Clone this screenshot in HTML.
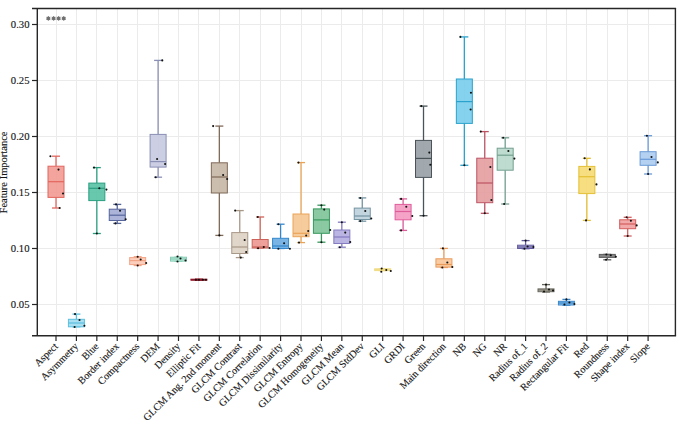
<!DOCTYPE html>
<html><head><meta charset="utf-8"><style>
html,body{margin:0;padding:0;background:#fff;}
svg{display:block;}
.t{font-family:"Liberation Serif",serif;font-size:10.2px;fill:#141414;stroke:#1a1a1a;stroke-width:0.12px}
.yt{font-size:10.7px}
.star{font-family:"Liberation Sans",sans-serif;font-size:13px;fill:#6a6a6a;stroke:#6a6a6a;stroke-width:0.7px}
</style></head><body>
<svg width="693" height="432" viewBox="0 0 693 432">
<rect width="693" height="432" fill="#fff"/>
<line x1="56.50" y1="8.5" x2="56.50" y2="335.8" stroke="#ebebeb" stroke-width="1"/>
<line x1="76.50" y1="8.5" x2="76.50" y2="335.8" stroke="#ebebeb" stroke-width="1"/>
<line x1="96.50" y1="8.5" x2="96.50" y2="335.8" stroke="#ebebeb" stroke-width="1"/>
<line x1="117.50" y1="8.5" x2="117.50" y2="335.8" stroke="#ebebeb" stroke-width="1"/>
<line x1="137.50" y1="8.5" x2="137.50" y2="335.8" stroke="#ebebeb" stroke-width="1"/>
<line x1="158.50" y1="8.5" x2="158.50" y2="335.8" stroke="#ebebeb" stroke-width="1"/>
<line x1="178.50" y1="8.5" x2="178.50" y2="335.8" stroke="#ebebeb" stroke-width="1"/>
<line x1="198.50" y1="8.5" x2="198.50" y2="335.8" stroke="#ebebeb" stroke-width="1"/>
<line x1="219.50" y1="8.5" x2="219.50" y2="335.8" stroke="#ebebeb" stroke-width="1"/>
<line x1="239.50" y1="8.5" x2="239.50" y2="335.8" stroke="#ebebeb" stroke-width="1"/>
<line x1="260.50" y1="8.5" x2="260.50" y2="335.8" stroke="#ebebeb" stroke-width="1"/>
<line x1="280.50" y1="8.5" x2="280.50" y2="335.8" stroke="#ebebeb" stroke-width="1"/>
<line x1="301.50" y1="8.5" x2="301.50" y2="335.8" stroke="#ebebeb" stroke-width="1"/>
<line x1="321.50" y1="8.5" x2="321.50" y2="335.8" stroke="#ebebeb" stroke-width="1"/>
<line x1="341.50" y1="8.5" x2="341.50" y2="335.8" stroke="#ebebeb" stroke-width="1"/>
<line x1="362.50" y1="8.5" x2="362.50" y2="335.8" stroke="#ebebeb" stroke-width="1"/>
<line x1="382.50" y1="8.5" x2="382.50" y2="335.8" stroke="#ebebeb" stroke-width="1"/>
<line x1="403.50" y1="8.5" x2="403.50" y2="335.8" stroke="#ebebeb" stroke-width="1"/>
<line x1="423.50" y1="8.5" x2="423.50" y2="335.8" stroke="#ebebeb" stroke-width="1"/>
<line x1="443.50" y1="8.5" x2="443.50" y2="335.8" stroke="#ebebeb" stroke-width="1"/>
<line x1="464.50" y1="8.5" x2="464.50" y2="335.8" stroke="#ebebeb" stroke-width="1"/>
<line x1="484.50" y1="8.5" x2="484.50" y2="335.8" stroke="#ebebeb" stroke-width="1"/>
<line x1="505.50" y1="8.5" x2="505.50" y2="335.8" stroke="#ebebeb" stroke-width="1"/>
<line x1="525.50" y1="8.5" x2="525.50" y2="335.8" stroke="#ebebeb" stroke-width="1"/>
<line x1="546.50" y1="8.5" x2="546.50" y2="335.8" stroke="#ebebeb" stroke-width="1"/>
<line x1="566.50" y1="8.5" x2="566.50" y2="335.8" stroke="#ebebeb" stroke-width="1"/>
<line x1="586.50" y1="8.5" x2="586.50" y2="335.8" stroke="#ebebeb" stroke-width="1"/>
<line x1="607.50" y1="8.5" x2="607.50" y2="335.8" stroke="#ebebeb" stroke-width="1"/>
<line x1="627.50" y1="8.5" x2="627.50" y2="335.8" stroke="#ebebeb" stroke-width="1"/>
<line x1="648.50" y1="8.5" x2="648.50" y2="335.8" stroke="#ebebeb" stroke-width="1"/>
<line x1="37.3" y1="24.5" x2="675.4" y2="24.5" stroke="#ebebeb" stroke-width="1"/>
<line x1="37.3" y1="80.5" x2="675.4" y2="80.5" stroke="#ebebeb" stroke-width="1"/>
<line x1="37.3" y1="136.5" x2="675.4" y2="136.5" stroke="#ebebeb" stroke-width="1"/>
<line x1="37.3" y1="192.5" x2="675.4" y2="192.5" stroke="#ebebeb" stroke-width="1"/>
<line x1="37.3" y1="248.5" x2="675.4" y2="248.5" stroke="#ebebeb" stroke-width="1"/>
<line x1="37.3" y1="304.5" x2="675.4" y2="304.5" stroke="#ebebeb" stroke-width="1"/>
<line x1="56.00" y1="156.2" x2="56.00" y2="166.2" stroke="#e2665e" stroke-width="1.3"/>
<line x1="56.00" y1="197.4" x2="56.00" y2="208.0" stroke="#e2665e" stroke-width="1.3"/>
<line x1="52.00" y1="156.2" x2="60.00" y2="156.2" stroke="#e2665e" stroke-width="1.3"/>
<line x1="52.00" y1="208.0" x2="60.00" y2="208.0" stroke="#e2665e" stroke-width="1.3"/>
<rect x="48.00" y="166.2" width="16.0" height="31.20" fill="#f29a92" fill-opacity="0.9" stroke="#e2665e" stroke-width="1.0"/>
<line x1="48.00" y1="181.7" x2="64.00" y2="181.7" stroke="#e2665e" stroke-width="1.2"/>
<circle cx="50.40" cy="156.2" r="1.05" fill="#111"/>
<circle cx="58.50" cy="169.6" r="1.05" fill="#111"/>
<circle cx="63.00" cy="193.5" r="1.05" fill="#111"/>
<circle cx="59.70" cy="208" r="1.05" fill="#111"/>
<line x1="76.42" y1="314.1" x2="76.42" y2="319.3" stroke="#5cc0e0" stroke-width="1.3"/>
<line x1="76.42" y1="326.8" x2="76.42" y2="326.8" stroke="#5cc0e0" stroke-width="1.3"/>
<line x1="72.42" y1="314.1" x2="80.42" y2="314.1" stroke="#5cc0e0" stroke-width="1.3"/>
<line x1="72.42" y1="326.8" x2="80.42" y2="326.8" stroke="#5cc0e0" stroke-width="1.3"/>
<rect x="68.42" y="319.3" width="16.0" height="7.50" fill="#a0dcf0" fill-opacity="0.9" stroke="#5cc0e0" stroke-width="1.0"/>
<line x1="68.42" y1="323.0" x2="84.42" y2="323.0" stroke="#5cc0e0" stroke-width="1.2"/>
<circle cx="75.02" cy="314.1" r="1.05" fill="#111"/>
<circle cx="79.52" cy="320" r="1.05" fill="#111"/>
<circle cx="74.62" cy="327" r="1.05" fill="#111"/>
<circle cx="84.42" cy="325.8" r="1.05" fill="#111"/>
<line x1="96.83" y1="167.6" x2="96.83" y2="183.1" stroke="#2a9e80" stroke-width="1.3"/>
<line x1="96.83" y1="200.6" x2="96.83" y2="233.5" stroke="#2a9e80" stroke-width="1.3"/>
<line x1="92.83" y1="167.6" x2="100.83" y2="167.6" stroke="#2a9e80" stroke-width="1.3"/>
<line x1="92.83" y1="233.5" x2="100.83" y2="233.5" stroke="#2a9e80" stroke-width="1.3"/>
<rect x="88.83" y="183.1" width="16.0" height="17.50" fill="#58c2a4" fill-opacity="0.9" stroke="#2a9e80" stroke-width="1.0"/>
<line x1="88.83" y1="188.3" x2="104.83" y2="188.3" stroke="#2a9e80" stroke-width="1.2"/>
<circle cx="94.03" cy="167.6" r="1.05" fill="#111"/>
<circle cx="99.33" cy="188.3" r="1.05" fill="#111"/>
<circle cx="106.43" cy="189.6" r="1.05" fill="#111"/>
<circle cx="96.83" cy="233.5" r="1.05" fill="#111"/>
<line x1="117.25" y1="204.4" x2="117.25" y2="209.2" stroke="#56649c" stroke-width="1.3"/>
<line x1="117.25" y1="220.5" x2="117.25" y2="223.4" stroke="#56649c" stroke-width="1.3"/>
<line x1="113.25" y1="204.4" x2="121.25" y2="204.4" stroke="#56649c" stroke-width="1.3"/>
<line x1="113.25" y1="223.4" x2="121.25" y2="223.4" stroke="#56649c" stroke-width="1.3"/>
<rect x="109.25" y="209.2" width="16.0" height="11.30" fill="#a3acd6" fill-opacity="0.9" stroke="#56649c" stroke-width="1.0"/>
<line x1="109.25" y1="215.2" x2="125.25" y2="215.2" stroke="#56649c" stroke-width="1.2"/>
<circle cx="116.05" cy="204.4" r="1.05" fill="#111"/>
<circle cx="120.05" cy="210.7" r="1.05" fill="#111"/>
<circle cx="125.65" cy="219.3" r="1.05" fill="#111"/>
<circle cx="115.45" cy="223.4" r="1.05" fill="#111"/>
<line x1="137.67" y1="256.7" x2="137.67" y2="257.6" stroke="#f2a486" stroke-width="1.3"/>
<line x1="137.67" y1="264.6" x2="137.67" y2="265.5" stroke="#f2a486" stroke-width="1.3"/>
<line x1="133.67" y1="256.7" x2="141.67" y2="256.7" stroke="#f2a486" stroke-width="1.3"/>
<line x1="133.67" y1="265.5" x2="141.67" y2="265.5" stroke="#f2a486" stroke-width="1.3"/>
<rect x="129.67" y="257.6" width="16.0" height="7.00" fill="#fccab6" fill-opacity="0.9" stroke="#f2a486" stroke-width="1.0"/>
<line x1="129.67" y1="260.6" x2="145.67" y2="260.6" stroke="#f2a486" stroke-width="1.2"/>
<circle cx="137.67" cy="256.7" r="1.05" fill="#111"/>
<circle cx="140.67" cy="259.5" r="1.05" fill="#111"/>
<circle cx="146.17" cy="263" r="1.05" fill="#111"/>
<circle cx="137.67" cy="265.5" r="1.05" fill="#111"/>
<line x1="158.09" y1="60.4" x2="158.09" y2="134.4" stroke="#8a90b4" stroke-width="1.3"/>
<line x1="158.09" y1="167.1" x2="158.09" y2="177.2" stroke="#8a90b4" stroke-width="1.3"/>
<line x1="154.09" y1="60.4" x2="162.09" y2="60.4" stroke="#8a90b4" stroke-width="1.3"/>
<line x1="154.09" y1="177.2" x2="162.09" y2="177.2" stroke="#8a90b4" stroke-width="1.3"/>
<rect x="150.09" y="134.4" width="16.0" height="32.70" fill="#c6cae1" fill-opacity="0.9" stroke="#8a90b4" stroke-width="1.0"/>
<line x1="150.09" y1="161.6" x2="166.09" y2="161.6" stroke="#8a90b4" stroke-width="1.2"/>
<circle cx="162.29" cy="60.4" r="1.05" fill="#111"/>
<circle cx="157.09" cy="159" r="1.05" fill="#111"/>
<circle cx="165.09" cy="164" r="1.05" fill="#111"/>
<circle cx="155.69" cy="177.2" r="1.05" fill="#111"/>
<line x1="178.50" y1="257.2" x2="178.50" y2="257.2" stroke="#84ccb4" stroke-width="1.3"/>
<line x1="178.50" y1="261.1" x2="178.50" y2="261.1" stroke="#84ccb4" stroke-width="1.3"/>
<line x1="174.50" y1="257.2" x2="182.50" y2="257.2" stroke="#84ccb4" stroke-width="1.3"/>
<line x1="174.50" y1="261.1" x2="182.50" y2="261.1" stroke="#84ccb4" stroke-width="1.3"/>
<rect x="170.50" y="257.2" width="16.0" height="3.90" fill="#bde9da" fill-opacity="0.9" stroke="#84ccb4" stroke-width="1.0"/>
<line x1="170.50" y1="259.0" x2="186.50" y2="259.0" stroke="#84ccb4" stroke-width="1.2"/>
<circle cx="177.50" cy="256.5" r="1.05" fill="#111"/>
<circle cx="180.50" cy="258.5" r="1.05" fill="#111"/>
<circle cx="185.50" cy="260.5" r="1.05" fill="#111"/>
<circle cx="177.50" cy="261.5" r="1.05" fill="#111"/>
<line x1="198.92" y1="279.2" x2="198.92" y2="279.2" stroke="#901828" stroke-width="1.3"/>
<line x1="198.92" y1="280.2" x2="198.92" y2="280.2" stroke="#901828" stroke-width="1.3"/>
<line x1="194.92" y1="279.2" x2="202.92" y2="279.2" stroke="#901828" stroke-width="1.3"/>
<line x1="194.92" y1="280.2" x2="202.92" y2="280.2" stroke="#901828" stroke-width="1.3"/>
<rect x="190.92" y="279.2" width="16.0" height="1.00" fill="#d85060" fill-opacity="0.9" stroke="#901828" stroke-width="1.0"/>
<line x1="190.92" y1="279.7" x2="206.92" y2="279.7" stroke="#901828" stroke-width="1.2"/>
<circle cx="195.92" cy="279.7" r="1.05" fill="#111"/>
<circle cx="198.92" cy="279.7" r="1.05" fill="#111"/>
<circle cx="202.92" cy="279.7" r="1.05" fill="#111"/>
<circle cx="205.92" cy="279.7" r="1.05" fill="#111"/>
<line x1="219.34" y1="126.1" x2="219.34" y2="162.8" stroke="#806a58" stroke-width="1.3"/>
<line x1="219.34" y1="193.0" x2="219.34" y2="235.4" stroke="#806a58" stroke-width="1.3"/>
<line x1="215.34" y1="126.1" x2="223.34" y2="126.1" stroke="#806a58" stroke-width="1.3"/>
<line x1="215.34" y1="235.4" x2="223.34" y2="235.4" stroke="#806a58" stroke-width="1.3"/>
<rect x="211.34" y="162.8" width="16.0" height="30.20" fill="#c7b7a5" fill-opacity="0.9" stroke="#806a58" stroke-width="1.0"/>
<line x1="211.34" y1="177.0" x2="227.34" y2="177.0" stroke="#806a58" stroke-width="1.2"/>
<circle cx="213.14" cy="126.1" r="1.05" fill="#111"/>
<circle cx="223.14" cy="175" r="1.05" fill="#111"/>
<circle cx="227.14" cy="179" r="1.05" fill="#111"/>
<circle cx="219.34" cy="235.4" r="1.05" fill="#111"/>
<line x1="239.76" y1="210.6" x2="239.76" y2="232.6" stroke="#a89888" stroke-width="1.3"/>
<line x1="239.76" y1="253.5" x2="239.76" y2="257.6" stroke="#a89888" stroke-width="1.3"/>
<line x1="235.76" y1="210.6" x2="243.76" y2="210.6" stroke="#a89888" stroke-width="1.3"/>
<line x1="235.76" y1="257.6" x2="243.76" y2="257.6" stroke="#a89888" stroke-width="1.3"/>
<rect x="231.76" y="232.6" width="16.0" height="20.90" fill="#ddd2c3" fill-opacity="0.9" stroke="#a89888" stroke-width="1.0"/>
<line x1="231.76" y1="247.0" x2="247.76" y2="247.0" stroke="#a89888" stroke-width="1.2"/>
<circle cx="235.16" cy="210.6" r="1.05" fill="#111"/>
<circle cx="244.66" cy="240" r="1.05" fill="#111"/>
<circle cx="246.16" cy="252" r="1.05" fill="#111"/>
<circle cx="240.76" cy="257.6" r="1.05" fill="#111"/>
<line x1="260.17" y1="217.0" x2="260.17" y2="239.5" stroke="#cc6259" stroke-width="1.3"/>
<line x1="260.17" y1="248.0" x2="260.17" y2="248.0" stroke="#cc6259" stroke-width="1.3"/>
<line x1="256.17" y1="217.0" x2="264.17" y2="217.0" stroke="#cc6259" stroke-width="1.3"/>
<line x1="256.17" y1="248.0" x2="264.17" y2="248.0" stroke="#cc6259" stroke-width="1.3"/>
<rect x="252.17" y="239.5" width="16.0" height="8.50" fill="#eb978f" fill-opacity="0.9" stroke="#cc6259" stroke-width="1.0"/>
<line x1="252.17" y1="247.0" x2="268.17" y2="247.0" stroke="#cc6259" stroke-width="1.2"/>
<circle cx="257.77" cy="217" r="1.05" fill="#111"/>
<circle cx="263.77" cy="247" r="1.05" fill="#111"/>
<circle cx="258.07" cy="248.2" r="1.05" fill="#111"/>
<circle cx="269.57" cy="248" r="1.05" fill="#111"/>
<line x1="280.59" y1="224.2" x2="280.59" y2="238.3" stroke="#3486cc" stroke-width="1.3"/>
<line x1="280.59" y1="248.5" x2="280.59" y2="248.5" stroke="#3486cc" stroke-width="1.3"/>
<line x1="276.59" y1="224.2" x2="284.59" y2="224.2" stroke="#3486cc" stroke-width="1.3"/>
<line x1="276.59" y1="248.5" x2="284.59" y2="248.5" stroke="#3486cc" stroke-width="1.3"/>
<rect x="272.59" y="238.3" width="16.0" height="10.20" fill="#6aacE2" fill-opacity="0.9" stroke="#3486cc" stroke-width="1.0"/>
<line x1="272.59" y1="246.0" x2="288.59" y2="246.0" stroke="#3486cc" stroke-width="1.2"/>
<circle cx="278.39" cy="224.2" r="1.05" fill="#111"/>
<circle cx="284.09" cy="243.2" r="1.05" fill="#111"/>
<circle cx="289.89" cy="248.8" r="1.05" fill="#111"/>
<circle cx="278.39" cy="248.8" r="1.05" fill="#111"/>
<line x1="301.01" y1="162.6" x2="301.01" y2="214.0" stroke="#eaa458" stroke-width="1.3"/>
<line x1="301.01" y1="236.7" x2="301.01" y2="242.6" stroke="#eaa458" stroke-width="1.3"/>
<line x1="297.01" y1="162.6" x2="305.01" y2="162.6" stroke="#eaa458" stroke-width="1.3"/>
<line x1="297.01" y1="242.6" x2="305.01" y2="242.6" stroke="#eaa458" stroke-width="1.3"/>
<rect x="293.01" y="214.0" width="16.0" height="22.70" fill="#f5c792" fill-opacity="0.9" stroke="#eaa458" stroke-width="1.0"/>
<line x1="293.01" y1="233.3" x2="309.01" y2="233.3" stroke="#eaa458" stroke-width="1.2"/>
<circle cx="298.51" cy="162.6" r="1.05" fill="#111"/>
<circle cx="308.21" cy="231" r="1.05" fill="#111"/>
<circle cx="306.21" cy="235.5" r="1.05" fill="#111"/>
<circle cx="299.01" cy="242.6" r="1.05" fill="#111"/>
<line x1="321.42" y1="205.2" x2="321.42" y2="208.9" stroke="#38985e" stroke-width="1.3"/>
<line x1="321.42" y1="233.3" x2="321.42" y2="242.2" stroke="#38985e" stroke-width="1.3"/>
<line x1="317.42" y1="205.2" x2="325.42" y2="205.2" stroke="#38985e" stroke-width="1.3"/>
<line x1="317.42" y1="242.2" x2="325.42" y2="242.2" stroke="#38985e" stroke-width="1.3"/>
<rect x="313.42" y="208.9" width="16.0" height="24.40" fill="#7ec398" fill-opacity="0.9" stroke="#38985e" stroke-width="1.0"/>
<line x1="313.42" y1="219.9" x2="329.42" y2="219.9" stroke="#38985e" stroke-width="1.2"/>
<circle cx="321.42" cy="205.2" r="1.05" fill="#111"/>
<circle cx="324.22" cy="209.6" r="1.05" fill="#111"/>
<circle cx="330.22" cy="230" r="1.05" fill="#111"/>
<circle cx="321.42" cy="242.2" r="1.05" fill="#111"/>
<line x1="341.84" y1="222.2" x2="341.84" y2="230.0" stroke="#847cc0" stroke-width="1.3"/>
<line x1="341.84" y1="243.5" x2="341.84" y2="247.2" stroke="#847cc0" stroke-width="1.3"/>
<line x1="337.84" y1="222.2" x2="345.84" y2="222.2" stroke="#847cc0" stroke-width="1.3"/>
<line x1="337.84" y1="247.2" x2="345.84" y2="247.2" stroke="#847cc0" stroke-width="1.3"/>
<rect x="333.84" y="230.0" width="16.0" height="13.50" fill="#b2ade0" fill-opacity="0.9" stroke="#847cc0" stroke-width="1.0"/>
<line x1="333.84" y1="237.0" x2="349.84" y2="237.0" stroke="#847cc0" stroke-width="1.2"/>
<circle cx="341.84" cy="222.2" r="1.05" fill="#111"/>
<circle cx="345.24" cy="232.6" r="1.05" fill="#111"/>
<circle cx="350.24" cy="242" r="1.05" fill="#111"/>
<circle cx="339.84" cy="247.2" r="1.05" fill="#111"/>
<line x1="362.26" y1="197.9" x2="362.26" y2="208.1" stroke="#7494a2" stroke-width="1.3"/>
<line x1="362.26" y1="219.5" x2="362.26" y2="221.2" stroke="#7494a2" stroke-width="1.3"/>
<line x1="358.26" y1="197.9" x2="366.26" y2="197.9" stroke="#7494a2" stroke-width="1.3"/>
<line x1="358.26" y1="221.2" x2="366.26" y2="221.2" stroke="#7494a2" stroke-width="1.3"/>
<rect x="354.26" y="208.1" width="16.0" height="11.40" fill="#bcd0da" fill-opacity="0.9" stroke="#7494a2" stroke-width="1.0"/>
<line x1="354.26" y1="216.0" x2="370.26" y2="216.0" stroke="#7494a2" stroke-width="1.2"/>
<circle cx="360.26" cy="198" r="1.05" fill="#111"/>
<circle cx="365.26" cy="211" r="1.05" fill="#111"/>
<circle cx="371.26" cy="218.5" r="1.05" fill="#111"/>
<circle cx="360.26" cy="221.1" r="1.05" fill="#111"/>
<line x1="382.68" y1="268.8" x2="382.68" y2="268.8" stroke="#f0dc84" stroke-width="1.3"/>
<line x1="382.68" y1="270.6" x2="382.68" y2="270.6" stroke="#f0dc84" stroke-width="1.3"/>
<line x1="378.68" y1="268.8" x2="386.68" y2="268.8" stroke="#f0dc84" stroke-width="1.3"/>
<line x1="378.68" y1="270.6" x2="386.68" y2="270.6" stroke="#f0dc84" stroke-width="1.3"/>
<rect x="374.68" y="268.8" width="16.0" height="1.80" fill="#f9eeae" fill-opacity="0.9" stroke="#f0dc84" stroke-width="1.0"/>
<line x1="374.68" y1="269.6" x2="390.68" y2="269.6" stroke="#f0dc84" stroke-width="1.2"/>
<circle cx="381.68" cy="268.5" r="1.05" fill="#111"/>
<circle cx="381.28" cy="271.7" r="1.05" fill="#111"/>
<circle cx="386.28" cy="270" r="1.05" fill="#111"/>
<circle cx="390.78" cy="271" r="1.05" fill="#111"/>
<line x1="403.09" y1="198.9" x2="403.09" y2="204.4" stroke="#de5e9a" stroke-width="1.3"/>
<line x1="403.09" y1="219.8" x2="403.09" y2="230.4" stroke="#de5e9a" stroke-width="1.3"/>
<line x1="399.09" y1="198.9" x2="407.09" y2="198.9" stroke="#de5e9a" stroke-width="1.3"/>
<line x1="399.09" y1="230.4" x2="407.09" y2="230.4" stroke="#de5e9a" stroke-width="1.3"/>
<rect x="395.09" y="204.4" width="16.0" height="15.40" fill="#f49ac2" fill-opacity="0.9" stroke="#de5e9a" stroke-width="1.0"/>
<line x1="395.09" y1="211.5" x2="411.09" y2="211.5" stroke="#de5e9a" stroke-width="1.2"/>
<circle cx="401.09" cy="198.9" r="1.05" fill="#111"/>
<circle cx="406.29" cy="206.7" r="1.05" fill="#111"/>
<circle cx="412.29" cy="216" r="1.05" fill="#111"/>
<circle cx="401.09" cy="230.4" r="1.05" fill="#111"/>
<line x1="423.51" y1="106.1" x2="423.51" y2="140.4" stroke="#4a5458" stroke-width="1.3"/>
<line x1="423.51" y1="177.4" x2="423.51" y2="215.7" stroke="#4a5458" stroke-width="1.3"/>
<line x1="419.51" y1="106.1" x2="427.51" y2="106.1" stroke="#4a5458" stroke-width="1.3"/>
<line x1="419.51" y1="215.7" x2="427.51" y2="215.7" stroke="#4a5458" stroke-width="1.3"/>
<rect x="415.51" y="140.4" width="16.0" height="37.00" fill="#97a0a5" fill-opacity="0.9" stroke="#4a5458" stroke-width="1.0"/>
<line x1="415.51" y1="158.4" x2="431.51" y2="158.4" stroke="#4a5458" stroke-width="1.2"/>
<circle cx="421.31" cy="106.1" r="1.05" fill="#111"/>
<circle cx="429.31" cy="152.6" r="1.05" fill="#111"/>
<circle cx="430.31" cy="164.8" r="1.05" fill="#111"/>
<circle cx="423.51" cy="215.7" r="1.05" fill="#111"/>
<line x1="443.93" y1="248.4" x2="443.93" y2="258.8" stroke="#e99c5c" stroke-width="1.3"/>
<line x1="443.93" y1="267.1" x2="443.93" y2="267.5" stroke="#e99c5c" stroke-width="1.3"/>
<line x1="439.93" y1="248.4" x2="447.93" y2="248.4" stroke="#e99c5c" stroke-width="1.3"/>
<line x1="439.93" y1="267.5" x2="447.93" y2="267.5" stroke="#e99c5c" stroke-width="1.3"/>
<rect x="435.93" y="258.8" width="16.0" height="8.30" fill="#f8c69a" fill-opacity="0.9" stroke="#e99c5c" stroke-width="1.0"/>
<line x1="435.93" y1="264.5" x2="451.93" y2="264.5" stroke="#e99c5c" stroke-width="1.2"/>
<circle cx="442.93" cy="248.4" r="1.05" fill="#111"/>
<circle cx="447.33" cy="262.5" r="1.05" fill="#111"/>
<circle cx="442.33" cy="267.5" r="1.05" fill="#111"/>
<circle cx="452.33" cy="267" r="1.05" fill="#111"/>
<line x1="464.34" y1="36.9" x2="464.34" y2="79.0" stroke="#2aa2cc" stroke-width="1.3"/>
<line x1="464.34" y1="123.4" x2="464.34" y2="165.3" stroke="#2aa2cc" stroke-width="1.3"/>
<line x1="460.34" y1="36.9" x2="468.34" y2="36.9" stroke="#2aa2cc" stroke-width="1.3"/>
<line x1="460.34" y1="165.3" x2="468.34" y2="165.3" stroke="#2aa2cc" stroke-width="1.3"/>
<rect x="456.34" y="79.0" width="16.0" height="44.40" fill="#78cdec" fill-opacity="0.9" stroke="#2aa2cc" stroke-width="1.0"/>
<line x1="456.34" y1="101.6" x2="472.34" y2="101.6" stroke="#2aa2cc" stroke-width="1.2"/>
<circle cx="460.34" cy="36.9" r="1.05" fill="#111"/>
<circle cx="470.94" cy="92.7" r="1.05" fill="#111"/>
<circle cx="470.64" cy="109.5" r="1.05" fill="#111"/>
<circle cx="464.34" cy="165.3" r="1.05" fill="#111"/>
<line x1="484.76" y1="131.6" x2="484.76" y2="158.2" stroke="#bc5464" stroke-width="1.3"/>
<line x1="484.76" y1="202.7" x2="484.76" y2="213.3" stroke="#bc5464" stroke-width="1.3"/>
<line x1="480.76" y1="131.6" x2="488.76" y2="131.6" stroke="#bc5464" stroke-width="1.3"/>
<line x1="480.76" y1="213.3" x2="488.76" y2="213.3" stroke="#bc5464" stroke-width="1.3"/>
<rect x="476.76" y="158.2" width="16.0" height="44.50" fill="#e49c9e" fill-opacity="0.9" stroke="#bc5464" stroke-width="1.0"/>
<line x1="476.76" y1="183.0" x2="492.76" y2="183.0" stroke="#bc5464" stroke-width="1.2"/>
<circle cx="480.76" cy="131.6" r="1.05" fill="#111"/>
<circle cx="490.36" cy="167" r="1.05" fill="#111"/>
<circle cx="491.36" cy="200" r="1.05" fill="#111"/>
<circle cx="484.76" cy="213.3" r="1.05" fill="#111"/>
<line x1="505.18" y1="137.8" x2="505.18" y2="148.2" stroke="#74a090" stroke-width="1.3"/>
<line x1="505.18" y1="170.2" x2="505.18" y2="204.0" stroke="#74a090" stroke-width="1.3"/>
<line x1="501.18" y1="137.8" x2="509.18" y2="137.8" stroke="#74a090" stroke-width="1.3"/>
<line x1="501.18" y1="204.0" x2="509.18" y2="204.0" stroke="#74a090" stroke-width="1.3"/>
<rect x="497.18" y="148.2" width="16.0" height="22.00" fill="#b8d8cc" fill-opacity="0.9" stroke="#74a090" stroke-width="1.0"/>
<line x1="497.18" y1="155.2" x2="513.18" y2="155.2" stroke="#74a090" stroke-width="1.2"/>
<circle cx="503.18" cy="137.8" r="1.05" fill="#111"/>
<circle cx="508.38" cy="151" r="1.05" fill="#111"/>
<circle cx="514.38" cy="158.6" r="1.05" fill="#111"/>
<circle cx="504.18" cy="204" r="1.05" fill="#111"/>
<line x1="525.60" y1="240.6" x2="525.60" y2="245.2" stroke="#625a9e" stroke-width="1.3"/>
<line x1="525.60" y1="248.5" x2="525.60" y2="248.7" stroke="#625a9e" stroke-width="1.3"/>
<line x1="521.60" y1="240.6" x2="529.60" y2="240.6" stroke="#625a9e" stroke-width="1.3"/>
<line x1="521.60" y1="248.7" x2="529.60" y2="248.7" stroke="#625a9e" stroke-width="1.3"/>
<rect x="517.60" y="245.2" width="16.0" height="3.30" fill="#aea8d6" fill-opacity="0.9" stroke="#625a9e" stroke-width="1.0"/>
<line x1="517.60" y1="247.0" x2="533.60" y2="247.0" stroke="#625a9e" stroke-width="1.2"/>
<circle cx="525.60" cy="240.6" r="1.05" fill="#111"/>
<circle cx="524.40" cy="248.7" r="1.05" fill="#111"/>
<circle cx="533.40" cy="247" r="1.05" fill="#111"/>
<circle cx="527.60" cy="246.5" r="1.05" fill="#111"/>
<line x1="546.01" y1="284.6" x2="546.01" y2="288.9" stroke="#66645a" stroke-width="1.3"/>
<line x1="546.01" y1="291.7" x2="546.01" y2="292.0" stroke="#66645a" stroke-width="1.3"/>
<line x1="542.01" y1="284.6" x2="550.01" y2="284.6" stroke="#66645a" stroke-width="1.3"/>
<line x1="542.01" y1="292.0" x2="550.01" y2="292.0" stroke="#66645a" stroke-width="1.3"/>
<rect x="538.01" y="288.9" width="16.0" height="2.80" fill="#d9d5c4" fill-opacity="0.9" stroke="#66645a" stroke-width="1.0"/>
<line x1="538.01" y1="290.0" x2="554.01" y2="290.0" stroke="#66645a" stroke-width="1.2"/>
<circle cx="546.01" cy="284.6" r="1.05" fill="#111"/>
<circle cx="544.01" cy="291.5" r="1.05" fill="#111"/>
<circle cx="553.01" cy="290.5" r="1.05" fill="#111"/>
<circle cx="549.01" cy="289.5" r="1.05" fill="#111"/>
<line x1="566.43" y1="299.4" x2="566.43" y2="301.3" stroke="#3a88cc" stroke-width="1.3"/>
<line x1="566.43" y1="305.0" x2="566.43" y2="305.2" stroke="#3a88cc" stroke-width="1.3"/>
<line x1="562.43" y1="299.4" x2="570.43" y2="299.4" stroke="#3a88cc" stroke-width="1.3"/>
<line x1="562.43" y1="305.2" x2="570.43" y2="305.2" stroke="#3a88cc" stroke-width="1.3"/>
<rect x="558.43" y="301.3" width="16.0" height="3.70" fill="#84bcea" fill-opacity="0.9" stroke="#3a88cc" stroke-width="1.0"/>
<line x1="558.43" y1="303.0" x2="574.43" y2="303.0" stroke="#3a88cc" stroke-width="1.2"/>
<circle cx="566.43" cy="299.4" r="1.05" fill="#111"/>
<circle cx="564.43" cy="304.5" r="1.05" fill="#111"/>
<circle cx="574.43" cy="304" r="1.05" fill="#111"/>
<circle cx="569.43" cy="302.5" r="1.05" fill="#111"/>
<line x1="586.85" y1="158.3" x2="586.85" y2="166.4" stroke="#e4c034" stroke-width="1.3"/>
<line x1="586.85" y1="193.6" x2="586.85" y2="220.4" stroke="#e4c034" stroke-width="1.3"/>
<line x1="582.85" y1="158.3" x2="590.85" y2="158.3" stroke="#e4c034" stroke-width="1.3"/>
<line x1="582.85" y1="220.4" x2="590.85" y2="220.4" stroke="#e4c034" stroke-width="1.3"/>
<rect x="578.85" y="166.4" width="16.0" height="27.20" fill="#f6da72" fill-opacity="0.9" stroke="#e4c034" stroke-width="1.0"/>
<line x1="578.85" y1="176.7" x2="594.85" y2="176.7" stroke="#e4c034" stroke-width="1.2"/>
<circle cx="584.65" cy="158.3" r="1.05" fill="#111"/>
<circle cx="589.85" cy="169.4" r="1.05" fill="#111"/>
<circle cx="596.45" cy="184.4" r="1.05" fill="#111"/>
<circle cx="586.05" cy="220.4" r="1.05" fill="#111"/>
<line x1="607.27" y1="254.4" x2="607.27" y2="254.4" stroke="#5a5a5a" stroke-width="1.3"/>
<line x1="607.27" y1="257.4" x2="607.27" y2="259.8" stroke="#5a5a5a" stroke-width="1.3"/>
<line x1="603.27" y1="254.4" x2="611.27" y2="254.4" stroke="#5a5a5a" stroke-width="1.3"/>
<line x1="603.27" y1="259.8" x2="611.27" y2="259.8" stroke="#5a5a5a" stroke-width="1.3"/>
<rect x="599.27" y="254.4" width="16.0" height="3.00" fill="#c4c4c4" fill-opacity="0.9" stroke="#5a5a5a" stroke-width="1.0"/>
<line x1="599.27" y1="256.0" x2="615.27" y2="256.0" stroke="#5a5a5a" stroke-width="1.2"/>
<circle cx="606.37" cy="254.5" r="1.05" fill="#111"/>
<circle cx="610.77" cy="255.2" r="1.05" fill="#111"/>
<circle cx="615.87" cy="256.8" r="1.05" fill="#111"/>
<circle cx="606.07" cy="259.8" r="1.05" fill="#111"/>
<line x1="627.68" y1="217.3" x2="627.68" y2="219.8" stroke="#d45e5e" stroke-width="1.3"/>
<line x1="627.68" y1="228.7" x2="627.68" y2="236.0" stroke="#d45e5e" stroke-width="1.3"/>
<line x1="623.68" y1="217.3" x2="631.68" y2="217.3" stroke="#d45e5e" stroke-width="1.3"/>
<line x1="623.68" y1="236.0" x2="631.68" y2="236.0" stroke="#d45e5e" stroke-width="1.3"/>
<rect x="619.68" y="219.8" width="16.0" height="8.90" fill="#f0a0a0" fill-opacity="0.9" stroke="#d45e5e" stroke-width="1.0"/>
<line x1="619.68" y1="224.0" x2="635.68" y2="224.0" stroke="#d45e5e" stroke-width="1.2"/>
<circle cx="626.68" cy="217.3" r="1.05" fill="#111"/>
<circle cx="630.88" cy="220.8" r="1.05" fill="#111"/>
<circle cx="636.68" cy="225.4" r="1.05" fill="#111"/>
<circle cx="627.68" cy="236" r="1.05" fill="#111"/>
<line x1="648.10" y1="135.7" x2="648.10" y2="151.7" stroke="#6a9ad8" stroke-width="1.3"/>
<line x1="648.10" y1="165.3" x2="648.10" y2="174.0" stroke="#6a9ad8" stroke-width="1.3"/>
<line x1="644.10" y1="135.7" x2="652.10" y2="135.7" stroke="#6a9ad8" stroke-width="1.3"/>
<line x1="644.10" y1="174.0" x2="652.10" y2="174.0" stroke="#6a9ad8" stroke-width="1.3"/>
<rect x="640.10" y="151.7" width="16.0" height="13.60" fill="#acccf0" fill-opacity="0.9" stroke="#6a9ad8" stroke-width="1.0"/>
<line x1="640.10" y1="159.3" x2="656.10" y2="159.3" stroke="#6a9ad8" stroke-width="1.2"/>
<circle cx="646.90" cy="135.7" r="1.05" fill="#111"/>
<circle cx="651.50" cy="157" r="1.05" fill="#111"/>
<circle cx="657.80" cy="162.4" r="1.05" fill="#111"/>
<circle cx="648.10" cy="174" r="1.05" fill="#111"/>
<line x1="37.3" y1="8.5" x2="37.3" y2="335.8" stroke="#262626" stroke-width="1.4"/>
<line x1="675.4" y1="8.5" x2="675.4" y2="335.8" stroke="#262626" stroke-width="1.4"/>
<line x1="32" y1="8.5" x2="676.1" y2="8.5" stroke="#262626" stroke-width="1.4"/>
<line x1="32" y1="335.8" x2="676.1" y2="335.8" stroke="#262626" stroke-width="1.4"/>
<line x1="32" y1="24.5" x2="37.3" y2="24.5" stroke="#262626" stroke-width="1.2"/>
<text x="29.5" y="28.10" text-anchor="end" class="t yt">0.30</text>
<line x1="32" y1="80.5" x2="37.3" y2="80.5" stroke="#262626" stroke-width="1.2"/>
<text x="29.5" y="84.10" text-anchor="end" class="t yt">0.25</text>
<line x1="32" y1="136.5" x2="37.3" y2="136.5" stroke="#262626" stroke-width="1.2"/>
<text x="29.5" y="140.10" text-anchor="end" class="t yt">0.20</text>
<line x1="32" y1="192.5" x2="37.3" y2="192.5" stroke="#262626" stroke-width="1.2"/>
<text x="29.5" y="196.10" text-anchor="end" class="t yt">0.15</text>
<line x1="32" y1="248.5" x2="37.3" y2="248.5" stroke="#262626" stroke-width="1.2"/>
<text x="29.5" y="252.10" text-anchor="end" class="t yt">0.10</text>
<line x1="32" y1="304.5" x2="37.3" y2="304.5" stroke="#262626" stroke-width="1.2"/>
<text x="29.5" y="308.10" text-anchor="end" class="t yt">0.05</text>
<line x1="56.00" y1="335.8" x2="56.00" y2="341.0" stroke="#262626" stroke-width="1.2"/>
<text transform="translate(56.00,344.6) rotate(-45)" x="0" y="3.4" text-anchor="end" class="t">Aspect</text>
<line x1="76.42" y1="335.8" x2="76.42" y2="341.0" stroke="#262626" stroke-width="1.2"/>
<text transform="translate(76.42,344.6) rotate(-45)" x="0" y="3.4" text-anchor="end" class="t">Asymmetry</text>
<line x1="96.83" y1="335.8" x2="96.83" y2="341.0" stroke="#262626" stroke-width="1.2"/>
<text transform="translate(96.83,344.6) rotate(-45)" x="0" y="3.4" text-anchor="end" class="t">Blue</text>
<line x1="117.25" y1="335.8" x2="117.25" y2="341.0" stroke="#262626" stroke-width="1.2"/>
<text transform="translate(117.25,344.6) rotate(-45)" x="0" y="3.4" text-anchor="end" class="t">Border index</text>
<line x1="137.67" y1="335.8" x2="137.67" y2="341.0" stroke="#262626" stroke-width="1.2"/>
<text transform="translate(137.67,344.6) rotate(-45)" x="0" y="3.4" text-anchor="end" class="t">Compactness</text>
<line x1="158.09" y1="335.8" x2="158.09" y2="341.0" stroke="#262626" stroke-width="1.2"/>
<text transform="translate(158.09,344.6) rotate(-45)" x="0" y="3.4" text-anchor="end" class="t">DEM</text>
<line x1="178.50" y1="335.8" x2="178.50" y2="341.0" stroke="#262626" stroke-width="1.2"/>
<text transform="translate(178.50,344.6) rotate(-45)" x="0" y="3.4" text-anchor="end" class="t">Density</text>
<line x1="198.92" y1="335.8" x2="198.92" y2="341.0" stroke="#262626" stroke-width="1.2"/>
<text transform="translate(198.92,344.6) rotate(-45)" x="0" y="3.4" text-anchor="end" class="t">Elliptic Fit</text>
<line x1="219.34" y1="335.8" x2="219.34" y2="341.0" stroke="#262626" stroke-width="1.2"/>
<text transform="translate(219.34,344.6) rotate(-45)" x="0" y="3.4" text-anchor="end" class="t">GLCM Ang. 2nd moment</text>
<line x1="239.76" y1="335.8" x2="239.76" y2="341.0" stroke="#262626" stroke-width="1.2"/>
<text transform="translate(239.76,344.6) rotate(-45)" x="0" y="3.4" text-anchor="end" class="t">GLCM Contrast</text>
<line x1="260.17" y1="335.8" x2="260.17" y2="341.0" stroke="#262626" stroke-width="1.2"/>
<text transform="translate(260.17,344.6) rotate(-45)" x="0" y="3.4" text-anchor="end" class="t">GLCM Correlation</text>
<line x1="280.59" y1="335.8" x2="280.59" y2="341.0" stroke="#262626" stroke-width="1.2"/>
<text transform="translate(280.59,344.6) rotate(-45)" x="0" y="3.4" text-anchor="end" class="t">GLCM Dissimilarity</text>
<line x1="301.01" y1="335.8" x2="301.01" y2="341.0" stroke="#262626" stroke-width="1.2"/>
<text transform="translate(301.01,344.6) rotate(-45)" x="0" y="3.4" text-anchor="end" class="t">GLCM Entropy</text>
<line x1="321.42" y1="335.8" x2="321.42" y2="341.0" stroke="#262626" stroke-width="1.2"/>
<text transform="translate(321.42,344.6) rotate(-45)" x="0" y="3.4" text-anchor="end" class="t">GLCM Homogeneity</text>
<line x1="341.84" y1="335.8" x2="341.84" y2="341.0" stroke="#262626" stroke-width="1.2"/>
<text transform="translate(341.84,344.6) rotate(-45)" x="0" y="3.4" text-anchor="end" class="t">GLCM Mean</text>
<line x1="362.26" y1="335.8" x2="362.26" y2="341.0" stroke="#262626" stroke-width="1.2"/>
<text transform="translate(362.26,344.6) rotate(-45)" x="0" y="3.4" text-anchor="end" class="t">GLCM StdDev</text>
<line x1="382.68" y1="335.8" x2="382.68" y2="341.0" stroke="#262626" stroke-width="1.2"/>
<text transform="translate(382.68,344.6) rotate(-45)" x="0" y="3.4" text-anchor="end" class="t">GLI</text>
<line x1="403.09" y1="335.8" x2="403.09" y2="341.0" stroke="#262626" stroke-width="1.2"/>
<text transform="translate(403.09,344.6) rotate(-45)" x="0" y="3.4" text-anchor="end" class="t">GRDI</text>
<line x1="423.51" y1="335.8" x2="423.51" y2="341.0" stroke="#262626" stroke-width="1.2"/>
<text transform="translate(423.51,344.6) rotate(-45)" x="0" y="3.4" text-anchor="end" class="t">Green</text>
<line x1="443.93" y1="335.8" x2="443.93" y2="341.0" stroke="#262626" stroke-width="1.2"/>
<text transform="translate(443.93,344.6) rotate(-45)" x="0" y="3.4" text-anchor="end" class="t">Main direction</text>
<line x1="464.34" y1="335.8" x2="464.34" y2="341.0" stroke="#262626" stroke-width="1.2"/>
<text transform="translate(464.34,344.6) rotate(-45)" x="0" y="3.4" text-anchor="end" class="t">NB</text>
<line x1="484.76" y1="335.8" x2="484.76" y2="341.0" stroke="#262626" stroke-width="1.2"/>
<text transform="translate(484.76,344.6) rotate(-45)" x="0" y="3.4" text-anchor="end" class="t">NG</text>
<line x1="505.18" y1="335.8" x2="505.18" y2="341.0" stroke="#262626" stroke-width="1.2"/>
<text transform="translate(505.18,344.6) rotate(-45)" x="0" y="3.4" text-anchor="end" class="t">NR</text>
<line x1="525.60" y1="335.8" x2="525.60" y2="341.0" stroke="#262626" stroke-width="1.2"/>
<text transform="translate(525.60,344.6) rotate(-45)" x="0" y="3.4" text-anchor="end" class="t">Radius of_1</text>
<line x1="546.01" y1="335.8" x2="546.01" y2="341.0" stroke="#262626" stroke-width="1.2"/>
<text transform="translate(546.01,344.6) rotate(-45)" x="0" y="3.4" text-anchor="end" class="t">Radius of_2</text>
<line x1="566.43" y1="335.8" x2="566.43" y2="341.0" stroke="#262626" stroke-width="1.2"/>
<text transform="translate(566.43,344.6) rotate(-45)" x="0" y="3.4" text-anchor="end" class="t">Rectangular Fit</text>
<line x1="586.85" y1="335.8" x2="586.85" y2="341.0" stroke="#262626" stroke-width="1.2"/>
<text transform="translate(586.85,344.6) rotate(-45)" x="0" y="3.4" text-anchor="end" class="t">Red</text>
<line x1="607.27" y1="335.8" x2="607.27" y2="341.0" stroke="#262626" stroke-width="1.2"/>
<text transform="translate(607.27,344.6) rotate(-45)" x="0" y="3.4" text-anchor="end" class="t">Roundness</text>
<line x1="627.68" y1="335.8" x2="627.68" y2="341.0" stroke="#262626" stroke-width="1.2"/>
<text transform="translate(627.68,344.6) rotate(-45)" x="0" y="3.4" text-anchor="end" class="t">Shape index</text>
<line x1="648.10" y1="335.8" x2="648.10" y2="341.0" stroke="#262626" stroke-width="1.2"/>
<text transform="translate(648.10,344.6) rotate(-45)" x="0" y="3.4" text-anchor="end" class="t">Slope</text>
<text transform="translate(6.8,172.5) rotate(-90)" x="0" y="0" text-anchor="middle" class="t" style="font-size:10.5px">Feature Importance</text>
<circle cx="48.4" cy="18.4" r="1.9" fill="#777"/><path d="M48.40,16.10L48.40,20.70M46.41,17.25L50.39,19.55M46.41,19.55L50.39,17.25" stroke="#6e6e6e" stroke-width="0.8"/>
<circle cx="53.6" cy="18.4" r="1.9" fill="#777"/><path d="M53.60,16.10L53.60,20.70M51.61,17.25L55.59,19.55M51.61,19.55L55.59,17.25" stroke="#6e6e6e" stroke-width="0.8"/>
<circle cx="58.6" cy="18.4" r="1.9" fill="#777"/><path d="M58.60,16.10L58.60,20.70M56.61,17.25L60.59,19.55M56.61,19.55L60.59,17.25" stroke="#6e6e6e" stroke-width="0.8"/>
<circle cx="63.7" cy="18.4" r="1.9" fill="#777"/><path d="M63.70,16.10L63.70,20.70M61.71,17.25L65.69,19.55M61.71,19.55L65.69,17.25" stroke="#6e6e6e" stroke-width="0.8"/>
</svg></body></html>
